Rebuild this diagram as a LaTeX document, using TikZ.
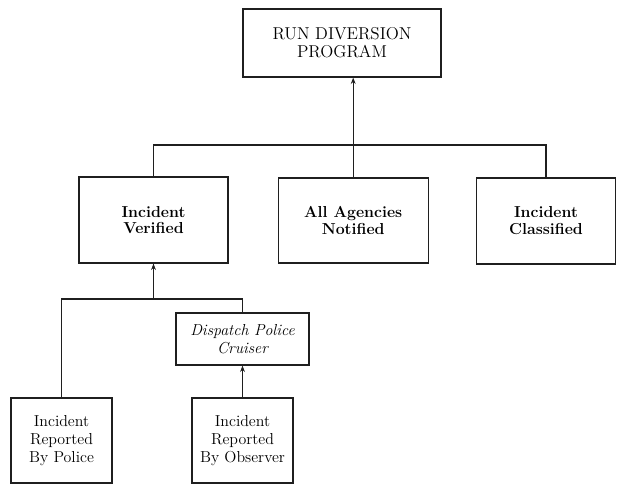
\documentclass[tikz,border=0pt]{standalone}
\usepackage{tikz}
\usetikzlibrary{arrows.meta,positioning,calc}
\definecolor{ink}{HTML}{1F1F1F}
\tikzset{
  box/.style={draw=ink,fill=white,line width=0.8pt,inner sep=0pt,
              align=center,font=\fontsize{11.3}{12.8}\selectfont},
  link/.style={draw=ink,line width=0.8pt},
  linkup/.style={link,-{Stealth[length=1.6mm,width=1.2mm]}},
}

\begin{document}
\begin{tikzpicture}
  \useasboundingbox (0,0) rectangle (15.45,12.125);
  % Top
  \node[box,minimum width=4.95cm,minimum height=1.7cm,
        font=\fontsize{12.2}{13}\selectfont] (run) at (8.55,11.05)
    {RUN DIVERSION\\PROGRAM};
  % Second level
  \node[box,minimum width=3.725cm,minimum height=2.15cm,
        font=\fontsize{11.3}{12}\selectfont\bfseries]
    (verified) at (3.8375,6.625) {Incident\\Verified};
  \node[box,minimum width=3.75cm,minimum height=2.125cm,
        font=\fontsize{11.3}{12}\selectfont\bfseries]
    (agencies) at (8.83,6.6125) {All Agencies\\Notified};
  \node[box,minimum width=3.475cm,minimum height=2.15cm,
        font=\fontsize{11.3}{12}\selectfont\bfseries]
    (classified) at (13.65,6.6) {Incident\\Classified};
  % Third level
  \node[box,minimum width=3.325cm,minimum height=1.3cm,
        font=\fontsize{11.3}{12.8}\selectfont\itshape]
    (dispatch) at (6.0625,3.65) {Dispatch Police\\Cruiser};
  \node[box,minimum width=2.525cm,minimum height=2.125cm]
    (police) at (1.5375,1.1125) {Incident\\Reported\\By Police};
  \node[box,minimum width=2.525cm,minimum height=2.125cm]
    (observer) at (6.0625,1.1125) {Incident\\Reported\\By Observer};
  % Buses
  \coordinate (bustop) at (agencies.north |- 0,8.5);
  \coordinate (buslow) at (3.8375,4.65);
  % Upper tree
  \draw[link] (verified.north) |- (classified.north |- bustop)
    -- (classified.north);
  \draw[link] (agencies.north) -- (bustop);
  \draw[linkup] (bustop) -- (bustop |- run.south);
  % Lower tree
  \draw[link] (police.north) |- (dispatch.north |- buslow)
    -- (dispatch.north);
  \draw[linkup] (buslow) -- (verified.south);
  \draw[linkup] (observer.north) -- (dispatch.south);
\end{tikzpicture}
\end{document}
